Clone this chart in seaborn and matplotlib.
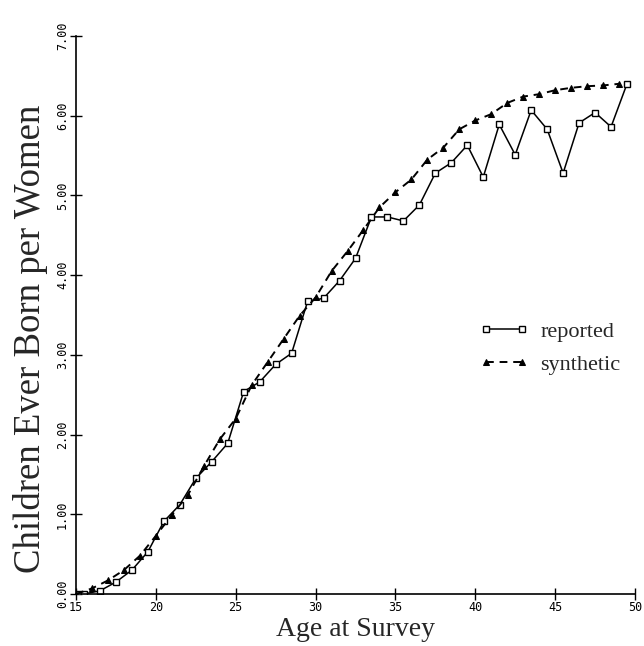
import matplotlib
matplotlib.use("Agg")
import matplotlib.pyplot as plt
import seaborn as sns

# Children ever born per woman by single year of age
reported_age = [15.1, 15.5, 16.5, 17.5, 18.5, 19.5, 20.5, 21.5, 22.5, 23.5,
                24.5, 25.5, 26.5, 27.5, 28.5, 29.5, 30.5, 31.5, 32.5, 33.5,
                34.5, 35.5, 36.5, 37.5, 38.5, 39.5, 40.5, 41.5, 42.5, 43.5,
                44.5, 45.5, 46.5, 47.5, 48.5, 49.5]
reported_ceb = [0.00, 0.00, 0.04, 0.15, 0.30, 0.53, 0.91, 1.12, 1.45, 1.66,
                1.89, 2.54, 2.66, 2.88, 3.02, 3.67, 3.71, 3.93, 4.21, 4.73,
                4.73, 4.68, 4.88, 5.28, 5.41, 5.63, 5.23, 5.89, 5.51, 6.07,
                5.83, 5.28, 5.91, 6.04, 5.86, 6.40]

synthetic_age = [15, 16, 17, 18, 19, 20, 21, 22, 23, 24, 25, 26, 27, 28, 29,
                 30, 31, 32, 33, 34, 35, 36, 37, 38, 39, 40, 41, 42, 43, 44,
                 45, 46, 47, 48, 49]
synthetic_ceb = [0.00, 0.07, 0.17, 0.30, 0.48, 0.73, 0.99, 1.24, 1.60, 1.94,
                 2.20, 2.62, 2.91, 3.20, 3.49, 3.72, 4.05, 4.30, 4.57, 4.85,
                 5.04, 5.20, 5.45, 5.60, 5.83, 5.94, 6.02, 6.16, 6.24, 6.27,
                 6.32, 6.35, 6.37, 6.38, 6.40]

x_ticks = [15, 20, 25, 30, 35, 40, 45, 50]
x_tick_labels = ["15", "20", "25", "30", "35", "40", "45", "50"]
y_ticks = [0, 1, 2, 3, 4, 5, 6, 7]
y_tick_labels = ["0.00", "1.00", "2.00", "3.00", "4.00", "5.00", "6.00", "7.00"]

sns.set_style("ticks")
plt.rcParams["font.family"] = ["Liberation Serif", "DejaVu Serif"]

W, H = 644, 646
fig = plt.figure(figsize=(W / 100, H / 100), dpi=100)
ax = fig.add_axes([76 / W, 52 / H, (635 - 76) / W, (594 - 36) / H])

sns.lineplot(x=reported_age, y=reported_ceb, ax=ax, color="black",
             linewidth=1.1, marker="s", markersize=5.0,
             markerfacecolor="white", markeredgecolor="black",
             markeredgewidth=1.0, label="reported")
sns.lineplot(x=synthetic_age, y=synthetic_ceb, ax=ax, color="black",
             linewidth=1.4, linestyle=(0, (4, 3)), marker="^",
             markersize=4.2, markerfacecolor="black",
             markeredgecolor="black", label="synthetic")

ax.set_xlim(15, 50)
ax.set_ylim(0, 7)
ax.set_xticks(x_ticks)
ax.set_yticks(y_ticks)
ax.set_xticklabels(x_tick_labels, fontfamily="DejaVu Sans Mono", fontsize=8.5)
ax.set_yticklabels(y_tick_labels, fontfamily="DejaVu Sans Mono", fontsize=8.5,
                   rotation=90, va="center")

for side in ("top", "right"):
    ax.spines[side].set_visible(False)
for side in ("left", "bottom"):
    ax.spines[side].set_color("black")
    ax.spines[side].set_linewidth(1.2)
ax.tick_params(direction="inout", length=8, width=1.0, colors="black", pad=1)

ax.set_xlabel("Age at Survey", fontsize=20, labelpad=2)
ax.set_ylabel("Children Ever Born per Women", fontsize=26.5)
ax.yaxis.set_label_coords(-0.05, 0.457)

ax.legend(loc="upper left", bbox_to_anchor=(479 / W, 1 - 321 / H),
          bbox_transform=fig.transFigure, frameon=False, fontsize=16,
          numpoints=2, handlelength=2.23, handletextpad=0.54,
          labelspacing=0.58, borderpad=0, borderaxespad=0)

fig.savefig("out.png", dpi=100, facecolor="white")
